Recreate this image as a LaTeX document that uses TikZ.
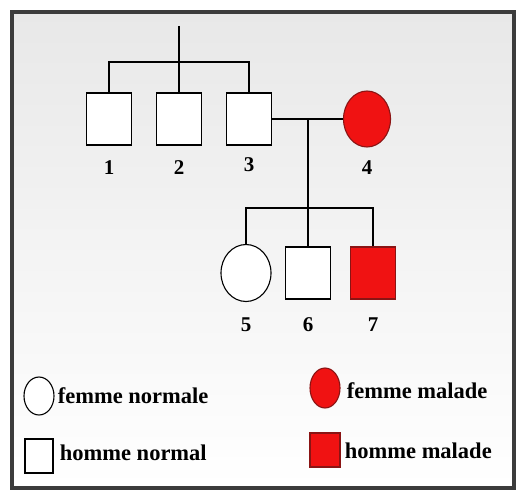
\documentclass[tikz,border=0pt]{standalone}
\usepackage{fontspec}
\setmainfont{Liberation Serif}
\usetikzlibrary{shapes.geometric}
\definecolor{rouge}{HTML}{F01212}
\definecolor{rougefonce}{HTML}{8A1414}
\definecolor{cadre}{HTML}{3C3C3C}

\begin{document}
\begin{tikzpicture}[x=1pt,y=-1pt,node distance=70pt,line width=1.1pt,
    homme/.style={draw,rectangle,fill=white,inner sep=0pt,minimum width=45pt,minimum height=52pt},
    femme/.style={draw,ellipse,fill=white,inner sep=0pt,minimum width=50pt,minimum height=57pt},
    malade/.style={fill=rouge,draw=rougefonce},
    num/.style={font=\bfseries\fontsize{21}{21}\selectfont},
    legende/.style={anchor=west,font=\bfseries\fontsize{22.5}{22.5}\selectfont}]

        \useasboundingbox (0,0) rectangle (518,492);
        \shade[top color=black!9,bottom color=white] (12,12) rectangle (514,488);
        \draw[cadre,line width=4pt] (12,12) rectangle (514,488);

        % generation I
        \node[homme]         (I1) at (109,119)  { };
        \node[homme]         (I2) [right of=I1] { };
        \node[homme]         (I3) [right of=I2] { };
        \node[femme,malade,minimum width=47pt,minimum height=56pt] (I4) at (367,119) { };

        % generation II
        \node[femme]         (II5) at (246,273)                    { };
        \node[homme]         (II6) [right of=II5,node distance=62pt] { };
        \node[homme,malade]  (II7) [right of=II6,node distance=65pt] { };

        % numeros
        \node[num] (n1) [below of=I1,node distance=49pt]  {1};
        \node[num] (n2) [below of=I2,node distance=49pt]  {2};
        \node[num] (n3) [below of=I3,node distance=46pt]  {3};
        \node[num] (n4) [below of=I4,node distance=49pt]  {4};
        \node[num] (n5) [below of=II5,node distance=52pt] {5};
        \node[num] (n6) [below of=II6,node distance=52pt] {6};
        \node[num] (n7) [below of=II7,node distance=52pt] {7};

        % liens
        \coordinate (haut) at (179,26);
        \coordinate (fratI) at (179,62);
        \coordinate (fratII) at (308,208);
        \draw (haut) -- (I2.north);
        \draw (I1.north) |- (fratI) -| (I3.north);
        \draw (I3.east) -- (I4.west);
        \draw (I3.east -| II6) -- (II6.north);
        \draw (II5.north) |- (fratII) -| (II7.north);

        % legende
        \node[femme,minimum width=30pt,minimum height=38pt]                (Lfn) at (39,396)  { };
        \node[homme,minimum width=28pt,minimum height=34pt]                (Lhn) at (39,456)  { };
        \node[femme,malade,minimum width=30pt,minimum height=40pt]         (Lfm) at (325,388) { };
        \node[homme,malade,minimum width=30pt,minimum height=34pt]         (Lhm) at (325,450) { };
        \node[legende] (tfn) at (54,396)  {femme normale};
        \node[legende] (thn) at (56,453)  {homme normal};
        \node[legende] (tfm) at (343,391) {femme malade};
        \node[legende] (thm) at (341,451) {homme malade};
\end{tikzpicture}
\end{document}
